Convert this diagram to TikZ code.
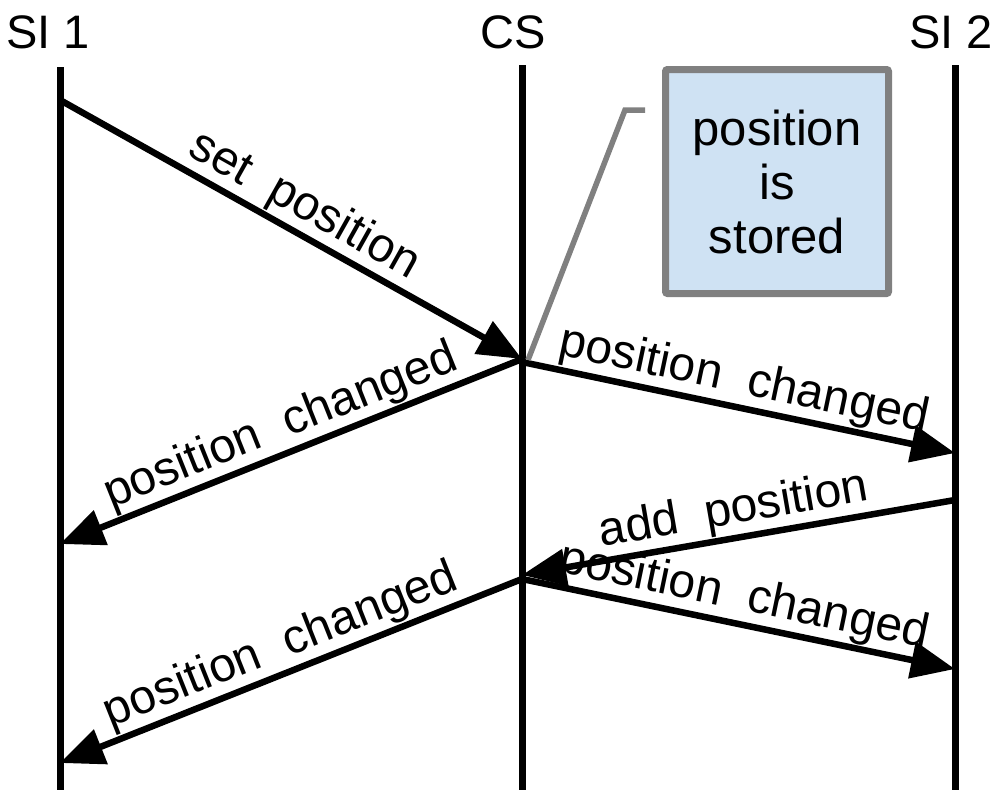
\documentclass[tikz,border=0pt]{standalone}
\usepackage{fontspec}
\setmainfont{Liberation Sans}
\usetikzlibrary{arrows.meta}
\begin{document}
\begin{tikzpicture}[x=1pt,y=-1pt,
  lifeline/.style={line width=7pt},
  msg/.style={line width=6.5pt,-{Triangle[length=44pt,width=36pt]}},
  lbl/.style={font=\fontsize{48}{54}\selectfont, sloped, above, inner sep=1pt},
  head/.style={font=\fontsize{47}{54}\selectfont, anchor=base},
  note/.style={draw=gray, line width=7pt, fill=notefill, rounded corners=2pt,
    minimum width=223pt, minimum height=224pt, align=center,
    font=\fontsize{49}{54}\selectfont},
  callout/.style={draw=gray, line width=5.5pt}]
\definecolor{notefill}{HTML}{CFE2F3}
\useasboundingbox (0,0) rectangle (994,790);
% headers
\node[head] (h1) at (48,48) {SI 1};
\node[head] (h2) at (513,48) {CS};
\node[head] (h3) at (951,48) {SI 2};
% lifelines
\coordinate (t1) at (60,67);  \coordinate (b1) at (60,790);
\coordinate (t2) at (522,65); \coordinate (b2) at (522,790);
\coordinate (t3) at (955,65); \coordinate (b3) at (955,790);
\draw[lifeline] (t1) -- (b1);
\draw[lifeline] (t2) -- (b2);
\draw[lifeline] (t3) -- (b3);
% event points
\coordinate (a1) at (60,100);
\coordinate (c1) at (522,359);
\coordinate (c1b) at (522,362);
\coordinate (a2) at (60,544);
\coordinate (d1) at (955,453);
\coordinate (d2) at (955,500);
\coordinate (c2) at (522,575);
\coordinate (c3) at (522,579);
\coordinate (d3) at (955,669);
\coordinate (a3) at (60,763);
% messages
\draw[msg] (a1) -- node[lbl] {set\ \ position} (c1);
\draw[msg] (c1) -- node[lbl] {position\ \ changed} (a2);
\draw[msg] (c1b) -- node[lbl] {position\ \ changed} (d1);
\draw[msg] (d2) -- node[lbl] {add\ \ position} (c2);
\draw[msg] (c3) -- node[lbl] {position\ \ changed} (d3);
\draw[msg] (c3) -- node[lbl] {position\ \ changed} (a3);
% note
\node[note] (n) at (777,181.5) {position\\is\\stored};
\coordinate (k1) at (528,360);
\coordinate (k2) at (625,110);
\coordinate (k3) at (645,110);
\draw[callout] (k1) -- (k2) -- (k3);
\end{tikzpicture}
\end{document}
